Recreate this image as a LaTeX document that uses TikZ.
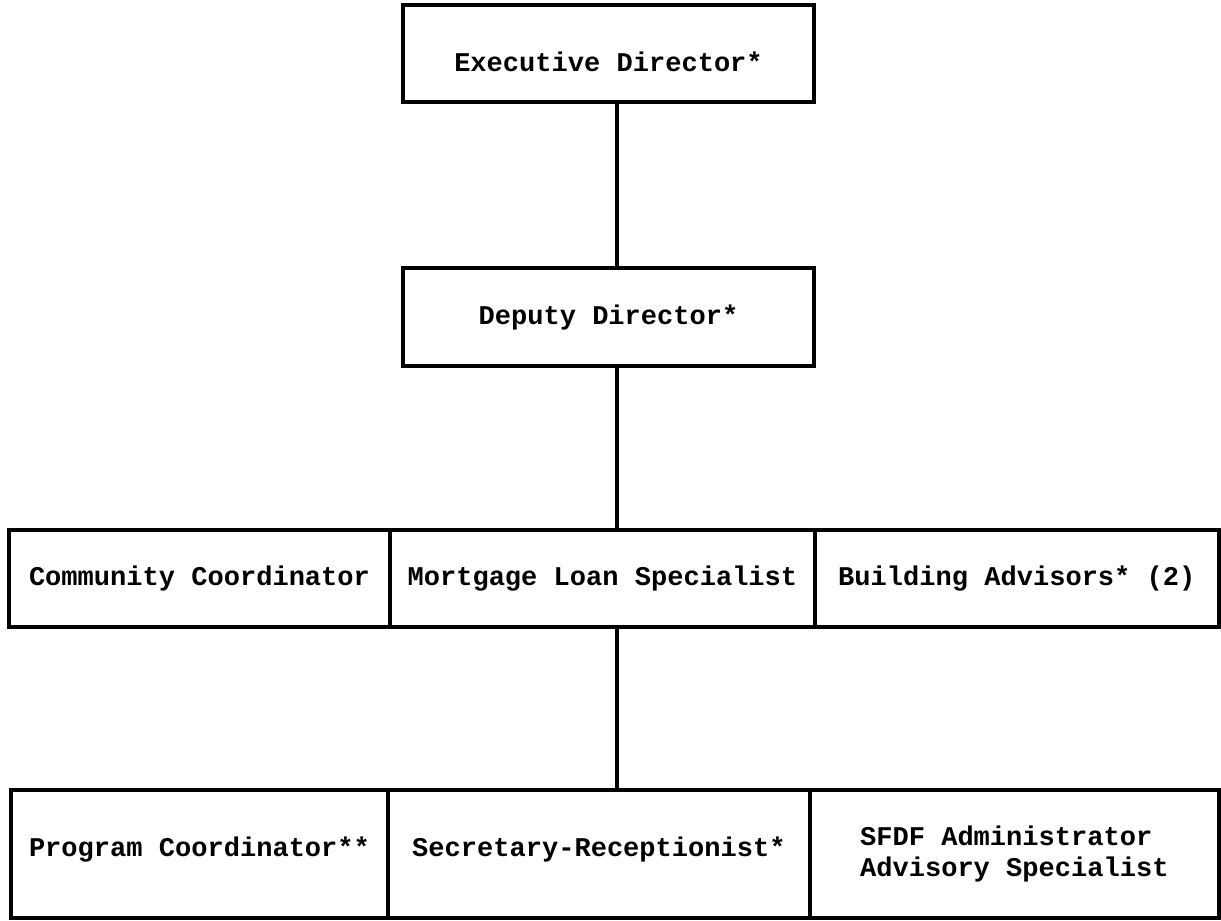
\documentclass[tikz,border=0pt]{standalone}
\usepackage{fontspec}
\setmonofont{Liberation Mono}
\usepackage{tikz}
\usetikzlibrary{positioning}

\begin{document}
\begin{tikzpicture}[
    x=0.02cm, y=-0.02cm,
    node distance=0pt and 0pt,
    box/.style={rectangle, draw, line width=2pt, outer sep=0pt, inner sep=0pt, align=center, minimum height=1.94cm, font=\ttfamily\bfseries\fontsize{15.4pt}{18.2pt}\selectfont},
    lowbox/.style={box, minimum height=2.56cm},
    link/.style={line width=2.2pt}
]
\useasboundingbox (0,0) rectangle (1221,920);
\coordinate (spine) at (617,0);
\node[box, minimum width=8.22cm, text height=0.9cm, text depth=0.18cm] (exec) at (608.5,53.5) {Executive Director*};
\node[box, minimum width=8.22cm, minimum height=1.96cm] (deputy) at (608.5,317) {Deputy Director*};
\node[box, minimum width=7.62cm] (community) at (199.5,578.5) {Community Coordinator};
\node[box, minimum width=8.5cm, right=of community] (mortgage) {Mortgage Loan Specialist};
\node[box, minimum width=8.08cm, right=of mortgage] (building) {Building Advisors* (2)};
\node[lowbox, minimum width=7.54cm, text height=0.4cm, text depth=0.3cm] (program) at (199.5,854) {Program Coordinator**};
\node[lowbox, minimum width=8.44cm, text height=0.4cm, text depth=0.3cm, right=of program] (secretary) {Secretary-Receptionist*};
\node[lowbox, minimum width=8.18cm, align=left, right=of secretary] (sfdf) {SFDF Administrator\\Advisory Specialist};
\draw[link] (exec.south -| spine) -- (deputy.north -| spine);
\draw[link] (deputy.south -| spine) -- (mortgage.north -| spine);
\draw[link] (mortgage.south -| spine) -- (secretary.north -| spine);
\end{tikzpicture}
\end{document}
